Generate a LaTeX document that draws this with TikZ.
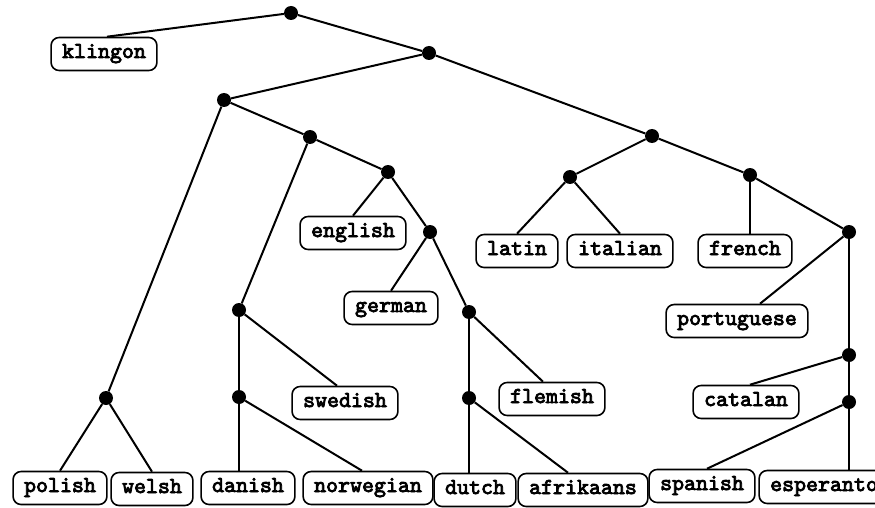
\documentclass[tikz,border=0pt]{standalone}
\usepackage{fontspec}
\newfontfamily\langfont{lmmono10-regular.otf}[FakeBold=3.5]
\begin{document}
\begin{tikzpicture}[x=1pt,y=-1pt,
  dot/.style={circle,fill=black,inner sep=0pt,minimum size=14pt},
  lang/.style={draw,line width=1.6pt,rounded corners=8pt,font=\langfont\fontsize{22.8}{24}\selectfont,
     inner xsep=11pt,inner ysep=0pt,minimum height=33pt,text height=12pt,text depth=4pt},
  edge/.style={line width=2pt}]
\useasboundingbox (0,0) rectangle (875,508);
% internal nodes
\node[dot] (root) at (291,13) {};
\node[dot] (n1) at (429,53) {};
\node[dot] (n2) at (224,100) {};
\node[dot] (n3) at (652,136) {};
\node[dot] (n4) at (310,137) {};
\node[dot] (n5) at (388,172) {};
\node[dot] (n6) at (430,232) {};
\node[dot] (lat) at (570,177) {};
\node[dot] (fr) at (750,175) {};
\node[dot] (n8) at (849,232) {};
\node[dot] (n9) at (239,310) {};
\node[dot] (n10) at (469,312) {};
\node[dot] (pw) at (106,398) {};
\node[dot] (dn) at (239,397) {};
\node[dot] (da) at (469,398) {};
\node[dot] (cat) at (849,355) {};
\node[dot] (sp) at (849,402) {};
% leaves
\node[lang] (klingon) at (104,54) {klingon};
\node[lang] (english) at (353,233) {english};
\node[lang] (german) at (391,308) {german};
\node[lang] (latin) at (517,251) {latin};
\node[lang] (italian) at (620,251) {italian};
\node[lang] (french) at (745,251) {french};
\node[lang] (portuguese) at (737,321) {portuguese};
\node[lang] (swedish) at (345,403) {swedish};
\node[lang] (flemish) at (552,399) {flemish};
\node[lang] (catalan) at (746,402) {catalan};
\node[lang] (polish) at (60,488) {polish};
\node[lang] (welsh) at (152,489) {welsh};
\node[lang] (danish) at (248,488) {danish};
\node[lang] (norwegian) at (368,488) {norwegian};
\node[lang] (dutch) at (475,490) {dutch};
\node[lang] (afrikaans) at (583,490) {afrikaans};
\node[lang] (spanish) at (702,486) {spanish};
\node[lang] (esperanto) at (824,487) {esperanto};
% edges
\draw[edge] (root) -- ([xshift=3pt]klingon.north);
\draw[edge] (root) -- (n1);
\draw[edge] (n1) -- (n2);
\draw[edge] (n1) -- (n3);
\draw[edge] (n2) -- (pw);
\draw[edge] (n2) -- (n4);
\draw[edge] (n4) -- (n9);
\draw[edge] (n4) -- (n5);
\draw[edge] (n5) -- (english.north);
\draw[edge] (n5) -- (n6);
\draw[edge] (n6) -- (german.north);
\draw[edge] (n6) -- (n10);
\draw[edge] (n9) -- ([xshift=-8pt]swedish.north);
\draw[edge] (n9) -- (dn);
\draw[edge] (dn) -- (dn |- danish.north);
\draw[edge] (dn) -- ([xshift=-6pt]norwegian.north);
\draw[edge] (pw) -- (polish.north);
\draw[edge] (pw) -- (welsh.north);
\draw[edge] (n10) -- ([xshift=-9pt]flemish.north);
\draw[edge] (n10) -- (da);
\draw[edge] (da) -- (da |- dutch.north);
\draw[edge] (da) -- ([xshift=-15pt]afrikaans.north);
\draw[edge] (n3) -- (lat);
\draw[edge] (n3) -- (fr);
\draw[edge] (lat) -- (latin.north);
\draw[edge] (lat) -- (italian.north);
\draw[edge] (fr) -- (fr |- french.north);
\draw[edge] (fr) -- (n8);
\draw[edge] (n8) -- ([xshift=23pt]portuguese.north);
\draw[edge] (n8) -- (cat);
\draw[edge] (cat) -- ([xshift=4pt]catalan.north);
\draw[edge] (cat) -- (sp);
\draw[edge] (sp) -- ([xshift=5pt]spanish.north);
\draw[edge] (sp) -- (sp |- esperanto.north);
\end{tikzpicture}
\end{document}
